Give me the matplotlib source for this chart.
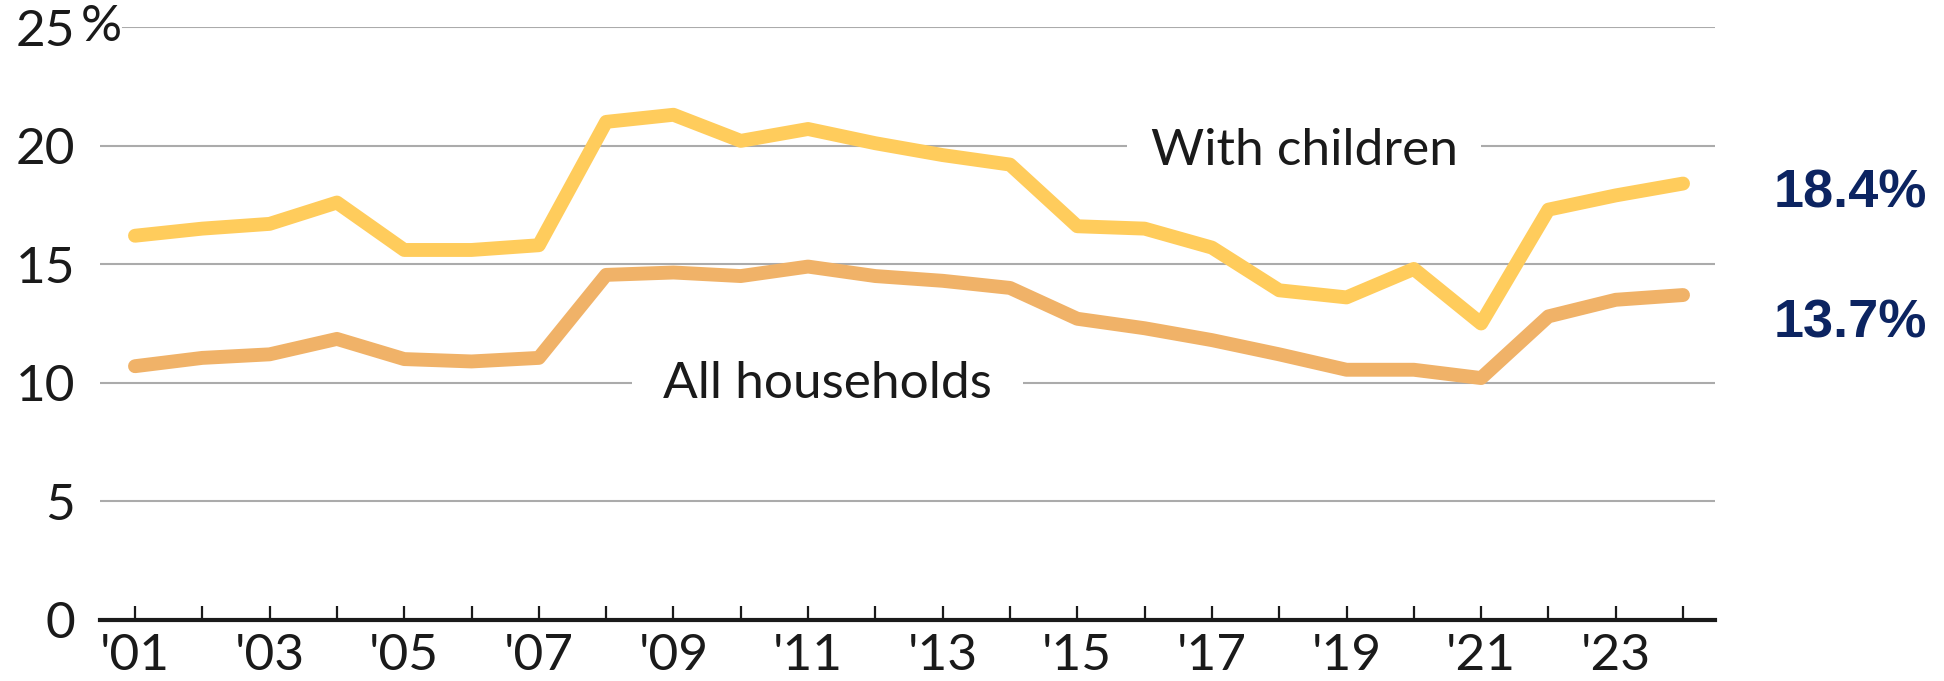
import matplotlib
matplotlib.use("Agg")
import matplotlib.pyplot as plt

plt.rcParams['font.family'] = ['Lato', 'DejaVu Sans']

years = list(range(2001, 2025))
with_children = [16.2, 16.5, 16.7, 17.6, 15.6, 15.6, 15.8, 21.0, 21.3, 20.2, 20.7, 20.1,
                 19.6, 19.2, 16.6, 16.5, 15.7, 13.9, 13.6, 14.8, 12.5, 17.3, 17.9, 18.4]
all_households = [10.7, 11.05, 11.2, 11.85, 11.0, 10.9, 11.05, 14.55, 14.65, 14.5, 14.9, 14.5,
                  14.3, 14.0, 12.7, 12.3, 11.8, 11.2, 10.55, 10.55, 10.2, 12.8, 13.5, 13.7]
y_ticks = [0, 5, 10, 15, 20, 25]
x_ticks = list(range(2001, 2024, 2))

yellow = '#ffcc5c'
orange = '#f0b268'
navy = '#0c2461'
grid_c = '#ababab'

fig = plt.figure(figsize=(19.44, 6.81), dpi=100)
ax = fig.add_axes([100 / 1944, 61 / 681, 1615 / 1944, 593 / 681])

# gridlines (top one starts after the % sign)
for v in y_ticks[1:]:
    xmin = 0.0142 if v == 25 else 0
    ax.axhline(v, xmin=xmin, xmax=1, color=grid_c, lw=1.5, zorder=1)

ax.plot(years, all_households, color=orange, lw=10, solid_capstyle='round', zorder=4)
ax.plot(years, with_children, color=yellow, lw=10, solid_capstyle='round', zorder=5)

ax.set_xlim(2000.48, 2024.475)
ax.set_ylim(0, 25)

for s in ['top', 'right', 'left']:
    ax.spines[s].set_visible(False)
ax.spines['bottom'].set_linewidth(3)
ax.spines['bottom'].set_color('#1a1a1a')
ax.spines['bottom'].set_zorder(6)

ax.set_xticks(years)
ax.set_xticklabels(["'%02d" % (y % 100) if y in x_ticks else '' for y in years])
ax.tick_params(axis='x', direction='in', length=10, width=1.6, color='#1a1a1a',
               labelsize=37, pad=9, labelcolor='#1a1a1a')
ax.set_yticks(y_ticks)
ax.set_yticklabels([str(v) for v in y_ticks])
ax.tick_params(axis='y', length=0, labelsize=37, pad=18, labelcolor='#1a1a1a')

ax.annotate('%', xy=(0, 25), xycoords=('axes fraction', 'data'), xytext=(-14, 0),
            textcoords='offset points', ha='left', va='center', fontsize=37, color='#1a1a1a')

ax.text(2018.37, 19.2, 'With children', ha='center', va='baseline', fontsize=37,
        color='#1a1a1a', zorder=2,
        bbox=dict(boxstyle='square,pad=0.45', fc='white', ec='none'))
ax.text(2011.29, 9.36, 'All households', ha='center', va='baseline', fontsize=37,
        color='#1a1a1a', zorder=2,
        bbox=dict(boxstyle='square,pad=0.6', fc='white', ec='none'))

ax.text(2025.35, 17.37, '%.1f%%' % with_children[-1], ha='left', va='baseline',
        fontsize=39, fontweight='bold', color=navy, family=['Liberation Sans'], clip_on=False)
ax.text(2025.35, 11.89, '%.1f%%' % all_households[-1], ha='left', va='baseline',
        fontsize=39, fontweight='bold', color=navy, family=['Liberation Sans'], clip_on=False)

fig.savefig('out.png', dpi=100)
